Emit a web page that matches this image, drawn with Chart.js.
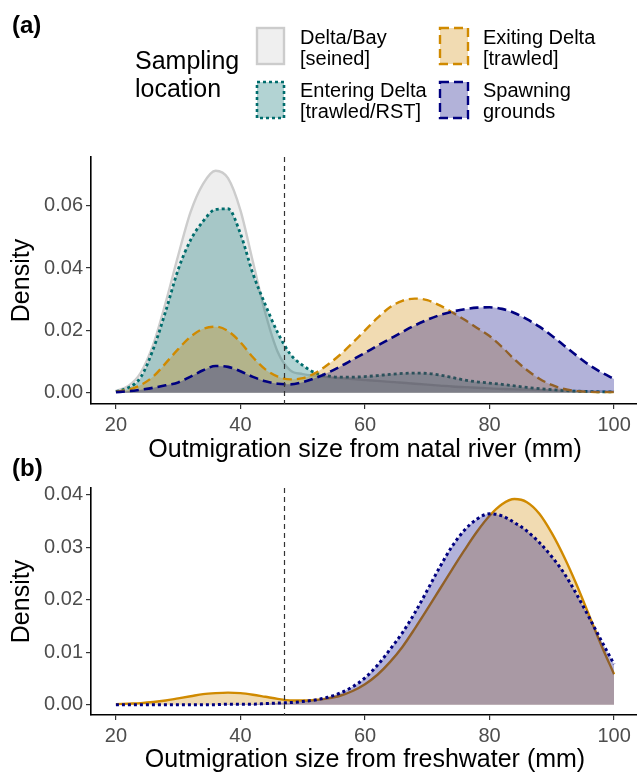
<!DOCTYPE html>
<html>
<head>
<meta charset="utf-8">
<script src="https://cdn.jsdelivr.net/npm/chart.js@4.4.1/dist/chart.umd.min.js"></script>
<style>
  body {
    margin: 0;
    width: 637px;
    height: 775px;
    overflow: hidden;
    position: relative;
    background: #fff;
    font-family: "Liberation Sans", Arial, sans-serif;
    color: #000;
  }
  canvas { position: absolute; left: 0; }
  .txt { position: absolute; white-space: nowrap; }
  .tag { font-size: 24px; font-weight: bold; line-height: 28px; left: 12px; }
  .legend-title { font-size: 25px; line-height: 28px; left: 135px; top: 46px; }
  .legend-label { font-size: 20px; line-height: 21px; }
  svg.keys { position: absolute; left: 0; top: 0; }
</style>
</head>
<body>
<canvas id="panelA" width="640" height="470" style="top:0"></canvas>
<canvas id="panelB" width="640" height="305" style="top:470px"></canvas>

<div class="txt tag" style="top:11px">(a)</div>
<div class="txt tag" style="top:454px">(b)</div>

<!-- legend, shared by both panels -->
<div class="txt legend-title">Sampling<br>location</div>
<svg class="keys" width="637" height="130">
  <rect x="257" y="28" width="27" height="36" fill="#efefef" stroke="#cccccc" stroke-width="2.4"/>
  <rect x="257" y="82" width="27" height="36" fill="rgba(0,109,109,0.3)" stroke="#006d6d" stroke-width="2.6" stroke-dasharray="3 3"/>
  <rect x="440" y="28" width="28" height="36" fill="rgba(210,137,0,0.3)" stroke="#d08a00" stroke-width="2.4" stroke-dasharray="9 5"/>
  <rect x="440" y="82" width="28" height="36" fill="rgba(0,0,128,0.3)" stroke="#000080" stroke-width="2.4" stroke-dasharray="9 5"/>
</svg>
<div class="txt legend-label" style="left:300px;top:27px">Delta/Bay<br>[seined]</div>
<div class="txt legend-label" style="left:300px;top:80px">Entering Delta<br>[trawled/RST]</div>
<div class="txt legend-label" style="left:483px;top:27px">Exiting Delta<br>[trawled]</div>
<div class="txt legend-label" style="left:483px;top:80px">Spawning<br>grounds</div>

<script>
// Fork length (mm) where each density was read
const sizeMm = [20, 22, 24, 26, 28, 30, 32, 34, 36, 38,
                40, 42, 44, 46, 48, 50, 52, 54, 56, 58,
                60, 62, 64, 66, 68, 70, 72, 74, 76, 78,
                80, 82, 84, 86, 88, 90, 92, 94, 96, 98, 100];

// Panel (a): size leaving the natal river
const natalDeltaBay = [0.0006, 0.0022, 0.0065, 0.0155, 0.0290, 0.0440, 0.0580, 0.0670, 0.0712, 0.0688,
                       0.0585, 0.0420, 0.0255, 0.0130, 0.0072, 0.0060, 0.0054, 0.0050, 0.0047, 0.0044,
                       0.0041, 0.0038, 0.0035, 0.0032, 0.0029, 0.0026, 0.0023, 0.0020, 0.0018, 0.0016,
                       0.0014, 0.0012, 0.0011, 0.0010, 0.0009, 0.0008, 0.0007, 0.0006, 0.0005, 0.0005, 0.0004];
const natalEntering = [0.0004, 0.0016, 0.0050, 0.0140, 0.0262, 0.0395, 0.0490, 0.0550, 0.0588, 0.0590,
                       0.0510, 0.0382, 0.0282, 0.0192, 0.0124, 0.0088, 0.0064, 0.0054, 0.0050, 0.0050,
                       0.0052, 0.0055, 0.0059, 0.0062, 0.0063, 0.0062, 0.0057, 0.0049, 0.0041, 0.0035,
                       0.0031, 0.0027, 0.0022, 0.0017, 0.0013, 0.0010, 0.0007, 0.0005, 0.0004, 0.0003, 0.0003];
const natalExiting = [0.0003, 0.0010, 0.0025, 0.0052, 0.0095, 0.0140, 0.0180, 0.0205, 0.0212, 0.0198,
                      0.0162, 0.0114, 0.0075, 0.0052, 0.0043, 0.0047, 0.0063, 0.0090, 0.0122, 0.0160,
                      0.0200, 0.0240, 0.0274, 0.0295, 0.0302, 0.0297, 0.0280, 0.0258, 0.0234, 0.0208,
                      0.0182, 0.0147, 0.0107, 0.0073, 0.0045, 0.0025, 0.0012, 0.0006, 0.0003, 0.0002, 0.0002];
const natalSpawning = [0.0002, 0.0005, 0.0010, 0.0016, 0.0024, 0.0033, 0.0052, 0.0072, 0.0086, 0.0083,
                       0.0069, 0.0051, 0.0037, 0.0029, 0.0027, 0.0034, 0.0047, 0.0064, 0.0084, 0.0106,
                       0.0128, 0.0151, 0.0173, 0.0195, 0.0216, 0.0234, 0.0249, 0.0260, 0.0268, 0.0273,
                       0.0274, 0.0269, 0.0256, 0.0236, 0.0212, 0.0183, 0.0151, 0.0119, 0.0089, 0.0065, 0.0044];

// Panel (b): size leaving freshwater
const freshExiting = [0.0001, 0.0002, 0.0003, 0.0005, 0.0008, 0.0012, 0.0016, 0.0020, 0.0022, 0.0023,
                      0.0022, 0.0019, 0.0015, 0.0011, 0.0008, 0.0008, 0.0009, 0.0012, 0.0017, 0.0026,
                      0.0039, 0.0057, 0.0081, 0.0110, 0.0145, 0.0182, 0.0220, 0.0258, 0.0295, 0.0330,
                      0.0360, 0.0382, 0.0392, 0.0386, 0.0364, 0.0327, 0.0281, 0.0228, 0.0170, 0.0112, 0.0058];
const freshSpawning = [0.0000, 0.0000, 0.0000, 0.0000, 0.0000, 0.0000, 0.0000, 0.0000, 0.0000, 0.0001,
                       0.0001, 0.0001, 0.0002, 0.0003, 0.0004, 0.0006, 0.0009, 0.0014, 0.0022, 0.0034,
                       0.0051, 0.0075, 0.0105, 0.0137, 0.0175, 0.0218, 0.0262, 0.0302, 0.0333, 0.0354,
                       0.0364, 0.0360, 0.0347, 0.0331, 0.0309, 0.0282, 0.0250, 0.0210, 0.0166, 0.0121, 0.0077];

const xTicks = [20, 40, 60, 80, 100];
const yTicksA = [0, 0.02, 0.04, 0.06];
const yTicksB = [0, 0.01, 0.02, 0.03, 0.04];
const cutoffSize = 47;

const FONT = '"Liberation Sans", Arial, sans-serif';
Chart.defaults.font.family = FONT;

// Helper: turn a density array into {x, y} points
function toPoints(values) {
  return sizeMm.map((x, i) => ({ x: x, y: values[i] }));
}

function densitySet(label, values, line, fill, dash, order, width) {
  return {
    label: label,
    data: toPoints(values),
    borderColor: line,
    backgroundColor: fill,
    borderWidth: width || 2.4,
    borderDash: dash,
    fill: "origin",
    pointRadius: 0,
    cubicInterpolationMode: "monotone",
    order: order,
  };
}

// Dashed vertical reference line
const cutoffLine = {
  id: "cutoffLine",
  afterDatasetsDraw(chart) {
    const { ctx, chartArea, scales } = chart;
    const x = Math.round(scales.x.getPixelForValue(cutoffSize)) + 0.5;
    ctx.save();
    ctx.strokeStyle = "#333";
    ctx.lineWidth = 1.2;
    ctx.setLineDash([5, 4]);
    ctx.beginPath();
    ctx.moveTo(x, chartArea.top);
    ctx.lineTo(x, chartArea.bottom);
    ctx.stroke();
    ctx.restore();
  },
};

function buildScales(xTitle, yTicks, yMin, yMax, xHeight, titlePad) {
  return {
    x: {
      type: "linear",
      min: 16,
      max: 104,
      afterBuildTicks: (s) => { s.ticks = xTicks.map((v) => ({ value: v })); },
      afterFit: (s) => { s.height = xHeight; },
      border: { display: true, color: "#000", width: 1.6 },
      grid: { drawOnChartArea: false, tickLength: 5, color: "#333", lineWidth: 1.2 },
      ticks: { color: "#4d4d4d", font: { size: 20 }, padding: 4, maxRotation: 0, autoSkip: false },
      title: { display: true, text: xTitle, color: "#000", font: { size: 25 }, padding: { top: 0, bottom: titlePad } },
    },
    y: {
      min: yMin,
      max: yMax,
      afterBuildTicks: (s) => { s.ticks = yTicks.map((v) => ({ value: v })); },
      afterFit: (s) => { s.width = 91; },
      border: { display: true, color: "#000", width: 1.6 },
      grid: { drawOnChartArea: false, tickLength: 5, color: "#333", lineWidth: 1.2 },
      ticks: { color: "#4d4d4d", font: { size: 20 }, padding: 3, callback: (v) => v.toFixed(2) },
      title: { display: true, text: "Density", color: "#000", font: { size: 25 }, padding: { top: 7 } },
    },
  };
}

const baseOptions = {
  responsive: false,
  animation: false,
  plugins: { legend: { display: false }, tooltip: { enabled: false } },
};

function initCharts() {
  // Panel (a)
  new Chart(document.getElementById("panelA").getContext("2d"), {
    type: "line",
    data: {
      datasets: [
        densitySet("Delta/Bay [seined]", natalDeltaBay, "#cccccc", "rgba(200,200,200,0.3)", [], 4, 2.4),
        densitySet("Entering Delta [trawled/RST]", natalEntering, "#006d6d", "rgba(0,109,109,0.3)", [3, 3], 3, 2.8),
        densitySet("Exiting Delta [trawled]", natalExiting, "#d08a00", "rgba(210,137,0,0.3)", [9, 5], 2),
        densitySet("Spawning grounds", natalSpawning, "#000080", "rgba(0,0,128,0.3)", [9, 5], 1, 2.6),
      ],
    },
    options: Object.assign({}, baseOptions, {
      layout: { padding: { top: 157, right: 1, bottom: 0, left: 0 } },
      scales: buildScales("Outmigration size from natal river (mm)", yTicksA, -0.0036, 0.0756, 66, 5),
    }),
    plugins: [cutoffLine],
  });

  // Panel (b)
  new Chart(document.getElementById("panelB").getContext("2d"), {
    type: "line",
    data: {
      datasets: [
        densitySet("Exiting Delta [trawled]", freshExiting, "#d08a00", "rgba(210,137,0,0.3)", [], 2, 2.4),
        densitySet("Spawning grounds", freshSpawning, "#000080", "rgba(0,0,128,0.3)", [3, 3], 1, 3),
      ],
    },
    options: Object.assign({}, baseOptions, {
      layout: { padding: { top: 18, right: 1, bottom: 0, left: 0 } },
      scales: buildScales("Outmigration size from freshwater (mm)", yTicksB, -0.00197, 0.0413, 60, 0),
    }),
    plugins: [cutoffLine],
  });
}

initCharts();
</script>
</body>
</html>
